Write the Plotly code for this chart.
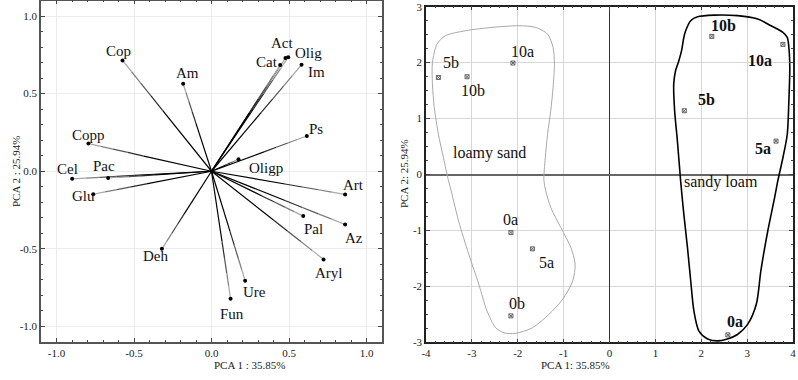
import plotly.graph_objects as go

# ---------------- Left panel: variable loadings ----------------
var_names = ["Cop", "Am", "Act", "Olig", "Cat", "Im", "Ps", "Oligp", "Copp", "Cel",
             "Pac", "Glu", "Art", "Pal", "Az", "Aryl", "Ure", "Fun", "Deh"]
pc1_load = [-0.574, -0.183, 0.477, 0.495, 0.443, 0.581, 0.615, 0.174, -0.794, -0.899,
            -0.667, -0.763, 0.862, 0.592, 0.862, 0.723, 0.217, 0.123, -0.320]
pc2_load = [0.714, 0.564, 0.729, 0.735, 0.684, 0.686, 0.227, 0.077, 0.178, -0.049,
            -0.043, -0.148, -0.149, -0.289, -0.343, -0.568, -0.705, -0.821, -0.500]

# ---------------- Right panel: sample scores ----------------
loamy_labels = ["5b", "10b", "10a", "0a", "5a", "0b"]
loamy_pc1 = [-3.73, -3.105, -2.105, -2.149, -1.68, -2.149]
loamy_pc2 = [1.735, 1.748, 1.993, -1.038, -1.329, -2.528]

sandy_labels = ["10b", "10a", "5b", "5a", "0a"]
sandy_pc1 = [2.23, 3.78, 1.63, 3.63, 2.58]
sandy_pc2 = [2.469, 2.326, 1.14, 0.597, -2.868]

group_names = ["loamy sand", "sandy loam"]
group_label_x = [-2.61, 2.43]
group_label_y = [0.39, -0.14]

# group enclosures (outline vertices, data units)
loamy_hull_x = [-3.86, -3.76, -3.58, -3.14, -2.56, -1.97, -1.61, -1.35, -1.23, -1.20, -1.23,
                -1.28, -1.35, -1.40, -1.43, -1.39, -1.28, -1.06, -0.84, -0.75, -0.80, -1.02,
                -1.32, -1.68, -2.05, -2.30, -2.48, -2.67, -2.85, -3.07, -3.29, -3.47, -3.51,
                -3.62, -3.73, -3.82, -3.86, -3.86]
loamy_hull_y = [2.00, 2.33, 2.48, 2.57, 2.63, 2.66, 2.63, 2.51, 2.27, 1.97, 1.56,
                1.14, 0.72, 0.30, -0.11, -0.29, -0.59, -0.95, -1.31, -1.60, -1.90, -2.23,
                -2.50, -2.74, -2.84, -2.83, -2.74, -2.44, -1.96, -1.42, -0.83, -0.23, -0.11,
                0.30, 0.72, 1.20, 1.62, 2.00]
sandy_hull_x = [1.66, 1.77, 1.92, 2.28, 2.79, 3.23, 3.52, 3.78, 3.875, 3.91, 3.93, 3.91,
                3.875, 3.78, 3.67, 3.60, 3.45, 3.30, 3.20, 3.01, 2.79, 2.57, 2.355, 2.14,
                1.95, 1.84, 1.77, 1.70, 1.62, 1.55, 1.48, 1.42, 1.40, 1.44, 1.51, 1.57,
                1.62, 1.66]
sandy_hull_y = [2.57, 2.75, 2.82, 2.85, 2.84, 2.78, 2.66, 2.54, 2.45, 2.27, 1.91, 1.32,
                0.72, 0.30, -0.11, -0.41, -1.01, -1.72, -2.32, -2.68, -2.86, -2.94, -2.975,
                -2.94, -2.80, -2.44, -1.90, -1.31, -0.71, -0.11, 0.60, 1.14, 1.62, 1.855,
                2.03, 2.21, 2.45, 2.57]

# ---------------- styles ----------------
FONT = "Liberation Serif, Times New Roman, serif"
var_label_shift = [(-4, 9), (4, 11), (-3, 15), (20, 4), (-13, 3), (15, -7), (9, 7),
                   (28, -9), (0, 9), (-5, 10), (-4, 12), (-10, -2), (8, 9), (10, -13),
                   (9, -14), (5, -14), (9, -11), (1, -15), (-6, -7)]
loamy_shift = [(13, 15), (6, -14), (10, 12), (0, 13), (14, -14), (6, 12)]
sandy_shift = [(12, 11), (-23, -16), (22, 11), (-13, -7), (7, 13)]

fig = go.Figure()

# loading vectors drawn with a dark-to-light fade
bands = [(0.0, 0.55, "#000000"), (0.55, 0.68, "#2a2a2a"), (0.68, 0.8, "#555555"),
         (0.8, 0.9, "#808080"), (0.9, 1.0, "#a8a8a8")]
for t0, t1, col in bands:
    xs, ys = [], []
    for x, y in zip(pc1_load, pc2_load):
        xs += [x * t0, x * t1, None]
        ys += [y * t0, y * t1, None]
    fig.add_trace(go.Scatter(x=xs, y=ys, mode="lines", line=dict(color=col, width=1.2),
                             xaxis="x", yaxis="y", hoverinfo="skip", showlegend=False))

fig.add_trace(go.Scatter(x=pc1_load, y=pc2_load, mode="markers",
                         marker=dict(color="black", size=4), xaxis="x", yaxis="y",
                         showlegend=False))

# hulls
fig.add_trace(go.Scatter(x=loamy_hull_x, y=loamy_hull_y, mode="lines",
                         line=dict(color="#a8a8a8", width=1, shape="spline", smoothing=0.8),
                         xaxis="x2", yaxis="y2", hoverinfo="skip", showlegend=False))
fig.add_trace(go.Scatter(x=sandy_hull_x, y=sandy_hull_y, mode="lines",
                         line=dict(color="black", width=1.6, shape="spline", smoothing=0.8),
                         xaxis="x2", yaxis="y2", hoverinfo="skip", showlegend=False))

mk = dict(symbol="square-x-open", size=4, color="#666666", line=dict(width=1, color="#666666"))
fig.add_trace(go.Scatter(x=loamy_pc1, y=loamy_pc2, mode="markers", marker=mk,
                         xaxis="x2", yaxis="y2", showlegend=False))
fig.add_trace(go.Scatter(x=sandy_pc1, y=sandy_pc2, mode="markers", marker=mk,
                         xaxis="x2", yaxis="y2", showlegend=False))

ann = []
for n, x, y, (dx, dy) in zip(var_names, pc1_load, pc2_load, var_label_shift):
    ann.append(dict(x=x, y=y, xref="x", yref="y", text=n, showarrow=False,
                    xshift=dx, yshift=dy, font=dict(family=FONT, size=15, color="#111")))
for n, x, y, (dx, dy) in zip(loamy_labels, loamy_pc1, loamy_pc2, loamy_shift):
    ann.append(dict(x=x, y=y, xref="x2", yref="y2", text=n, showarrow=False,
                    xshift=dx, yshift=dy, font=dict(family=FONT, size=16, color="#111")))
for n, x, y, (dx, dy) in zip(sandy_labels, sandy_pc1, sandy_pc2, sandy_shift):
    ann.append(dict(x=x, y=y, xref="x2", yref="y2", text="<b>%s</b>" % n, showarrow=False,
                    xshift=dx, yshift=dy, font=dict(family=FONT, size=16, color="#111")))
for n, x, y in zip(group_names, group_label_x, group_label_y):
    ann.append(dict(x=x, y=y, xref="x2", yref="y2", text=n, showarrow=False,
                    font=dict(family=FONT, size=16, color="#111")))

# axis titles
tfont = dict(family=FONT, size=11, color="#222")
ann += [
    dict(x=212 / 798, y=(380 - 373) / 380, xref="paper", yref="paper", text="PCA 1 : 35.85%",
         showarrow=False, font=tfont),
    dict(x=612 / 798, y=(380 - 373) / 380, xref="paper", yref="paper", text="PCA 1: 35.85%",
         showarrow=False, font=tfont),
    dict(x=8 / 798, y=(380 - 171) / 380, xref="paper", yref="paper", text="PCA 2 : 25.94%",
         showarrow=False, textangle=-90, font=tfont),
    dict(x=404 / 798, y=(380 - 174) / 380, xref="paper", yref="paper", text="PCA 2: 25.94%",
         showarrow=False, textangle=-90, font=tfont),
]

lt = [-1, -0.5, 0, 0.5, 1]
lt_txt = ["-1.0", "-0.5", "0.0", "0.5", "1.0"]
rx = [-4, -3, -2, -1, 0, 1, 2, 3, 4]
ry = [-3, -2, -1, 0, 1, 2, 3]

common = dict(showline=True, mirror="ticks", ticks="inside", ticklen=4, automargin=False,
              tickfont=dict(family=FONT, size=11, color="#222"))

fig.update_layout(
    width=798, height=380, margin=dict(l=0, r=0, t=0, b=0, pad=0, autoexpand=False),
    paper_bgcolor="white", plot_bgcolor="white", showlegend=False,
    annotations=ann,
    xaxis=dict(domain=[41 / 798, 382 / 798], range=[-1.1, 1.1], tickvals=lt, ticktext=lt_txt,
               showgrid=True, gridcolor="#ececec", zeroline=False, linecolor="#555",
               linewidth=1.5, anchor="y",
               minor=dict(dtick=0.1, ticks="inside", ticklen=2, showgrid=False), **common),
    yaxis=dict(domain=[38 / 380, 379.5 / 380], range=[-1.1, 1.1], tickvals=lt, ticktext=lt_txt,
               showgrid=True, gridcolor="#ececec", zeroline=False, linecolor="#555",
               linewidth=1.5, anchor="x",
               minor=dict(dtick=0.1, ticks="inside", ticklen=2, showgrid=False), **common),
    xaxis2=dict(domain=[426 / 798, 793 / 798], range=[-4, 4], tickvals=rx,
                ticktext=[str(v) for v in rx], showgrid=True, gridcolor="#d6d6d6",
                zeroline=True, zerolinecolor="#333", zerolinewidth=1, linecolor="#222",
                linewidth=1.5, anchor="y2",
                minor=dict(dtick=0.2, ticks="inside", ticklen=2, showgrid=False), **common),
    yaxis2=dict(domain=[37.7 / 380, 373.3 / 380], range=[-3, 3], tickvals=ry,
                ticktext=[str(v) for v in ry], showgrid=True, gridcolor="#d6d6d6",
                zeroline=True, zerolinecolor="#666", zerolinewidth=1.5, linecolor="#222",
                linewidth=1.5, anchor="x2",
                minor=dict(dtick=0.25, ticks="inside", ticklen=2, showgrid=False), **common),
)

fig.write_html("out.html", config={"displayModeBar": False},
               post_script="document.body.style.margin='0';")
